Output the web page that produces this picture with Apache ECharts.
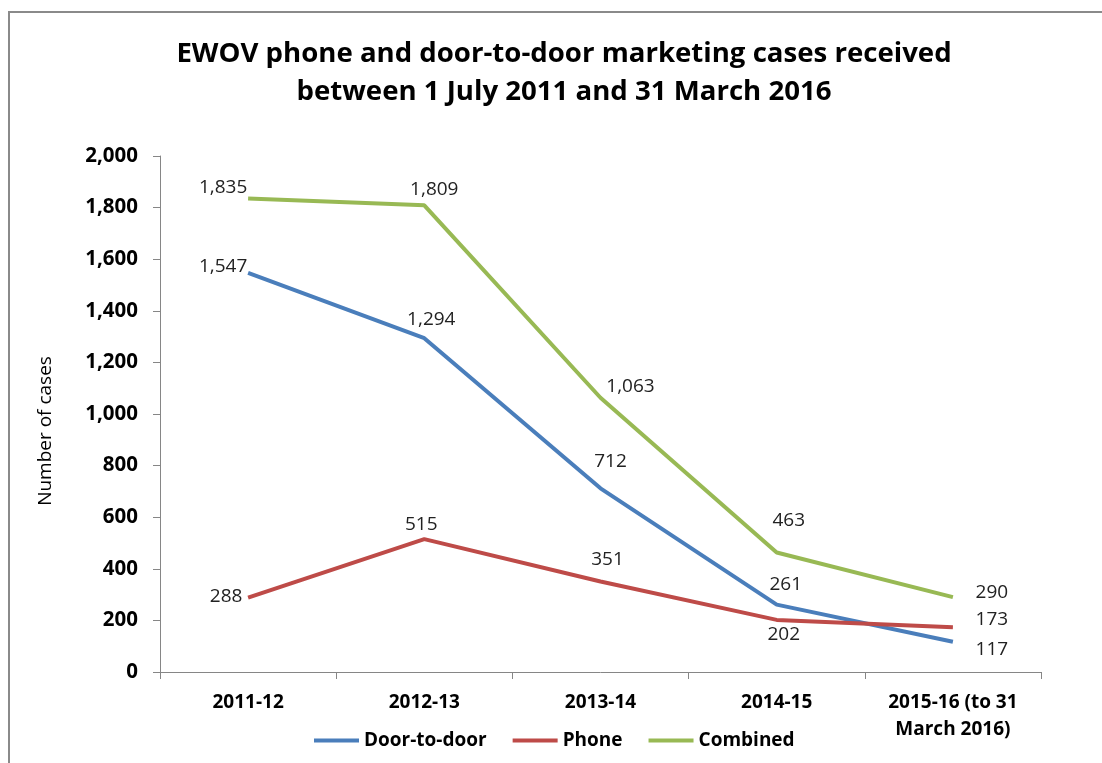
<!DOCTYPE html>
<html>
<head>
<meta charset="utf-8">
<script src="https://cdn.jsdelivr.net/npm/echarts@6/dist/echarts.min.js"></script>
<style>
html,body{margin:0;padding:0;background:#fff;}
#chart{width:1102px;height:763px;}
</style>
</head>
<body>
<div id="chart"></div>
<script>
const categories = ['2011-12', '2012-13', '2013-14', '2014-15', '2015-16 (to 31\nMarch 2016)'];
const doorToDoor = [1547, 1294, 712, 261, 117];
const phone = [288, 515, 351, 202, 173];
const combined = [1835, 1809, 1063, 463, 290];
const yTicks = { min: 0, max: 2000, interval: 200 };

// label placement offsets (pixels, relative to each point)
const doorOffsets = [[-25, -6], [7, -19], [10, -27], [9, -20], [39, 8]];
const phoneOffsets = [[-22, -1], [-3, -15], [7, -22], [7, 15], [39, -8]];
const combinedOffsets = [[-25, -11], [10, -16], [30, -11], [12, -32], [39, -5]];

const FONT = 'Open Sans';
function fmt(v) { return Number(v).toLocaleString('en-US'); }
function items(vals, offs) {
  return vals.map((v, i) => ({ value: v, label: { offset: offs[i] } }));
}
function mkSeries(name, vals, offs, color) {
  return {
    name: name,
    type: 'line',
    data: items(vals, offs),
    symbol: 'circle',
    symbolSize: 0.1,
    showSymbol: true,
    lineStyle: { color: color, width: 4 },
    itemStyle: { color: color },
    label: {
      show: true,
      position: 'inside',
      formatter: p => fmt(p.value),
      fontFamily: FONT,
      fontSize: 19,
      color: '#222'
    },
    emphasis: { disabled: true },
    animation: false
  };
}

const chart = echarts.init(document.getElementById('chart'), null, { renderer: 'canvas' });
chart.setOption({
  backgroundColor: '#fff',
  animation: false,
  graphic: [{
    type: 'rect',
    shape: { x: 9, y: 12, width: 1110, height: 780 },
    style: { fill: 'none', stroke: '#8a8a8a', lineWidth: 2 },
    silent: true,
    z: -10
  }],
  title: {
    text: 'EWOV phone and door-to-door marketing cases received\nbetween 1 July 2011 and 31 March 2016',
    left: 559,
    textAlign: 'center',
    top: 30,
    textStyle: {
      fontFamily: FONT,
      fontWeight: 'bold',
      fontSize: 27.6,
      lineHeight: 38,
      color: '#000'
    }
  },
  legend: {
    left: 309,
    top: 726,
    icon: 'rect',
    itemWidth: 45,
    itemHeight: 4,
    itemGap: 26,
    textStyle: { fontFamily: FONT, fontWeight: 'bold', fontSize: 19, color: '#000' },
    data: ['Door-to-door', 'Phone', 'Combined']
  },
  grid: { left: 160, right: 61, top: 156, bottom: 91, containLabel: false },
  xAxis: {
    type: 'category',
    data: categories,
    boundaryGap: true,
    axisLine: { lineStyle: { color: '#868686', width: 1 } },
    axisTick: { show: true, alignWithLabel: false, length: 7, lineStyle: { color: '#868686' } },
    axisLabel: {
      interval: 0,
      margin: 17,
      fontFamily: FONT,
      fontWeight: 'bold',
      fontSize: 19,
      lineHeight: 27,
      color: '#000'
    },
    splitLine: { show: false }
  },
  yAxis: {
    type: 'value',
    min: yTicks.min,
    max: yTicks.max,
    interval: yTicks.interval,
    name: 'Number of cases',
    nameLocation: 'middle',
    nameRotate: 90,
    nameGap: 105,
    nameTextStyle: { fontFamily: FONT, fontSize: 19, color: '#000', padding: [0, 34, 0, 0] },
    axisLine: { show: true, lineStyle: { color: '#868686', width: 1 } },
    axisTick: { show: true, length: 7, lineStyle: { color: '#868686' } },
    axisLabel: {
      margin: 22,
      formatter: v => fmt(v),
      fontFamily: FONT,
      fontWeight: 'bold',
      fontSize: 20.5,
      color: '#000'
    },
    splitLine: { show: false }
  },
  series: [
    mkSeries('Door-to-door', doorToDoor, doorOffsets, '#4A7EBB'),
    mkSeries('Phone', phone, phoneOffsets, '#BE4B48'),
    mkSeries('Combined', combined, combinedOffsets, '#98B954')
  ]
});
</script>
</body>
</html>
